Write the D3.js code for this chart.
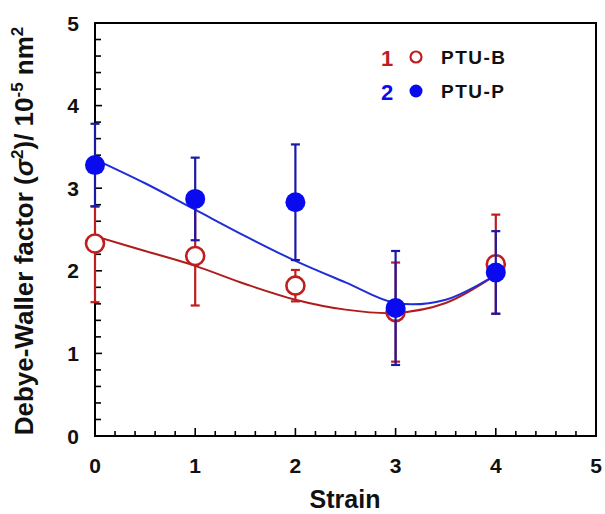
<!DOCTYPE html>
<html>
<head>
<meta charset="utf-8">
<script src="https://cdn.jsdelivr.net/npm/d3@7"></script>
<style>
  html, body { margin: 0; padding: 0; background: #fff; }
  svg { display: block; }
  text { font-family: Arial, "Liberation Sans", sans-serif; font-weight: bold; }
</style>
</head>
<body>
<svg id="chart" width="605" height="514"></svg>
<script>
// Measured points (strain vs Debye-Waller factor, 10^-5 nm^2)
const strain = [0, 1, 2, 3, 4];
const ptuB = [2.33, 2.18, 1.82, 1.50, 2.08];
const ptuBErrUp = [0.45, 0.60, 0.19, 0.60, 0.60];
const ptuBErrDown = [0.71, 0.60, 0.19, 0.60, 0.60];
const ptuP = [3.28, 2.87, 2.83, 1.55, 1.98];
const ptuPErrUp = [0.50, 0.50, 0.70, 0.69, 0.50];
const ptuPErrDown = [0.50, 0.50, 0.70, 0.69, 0.50];

// Trend curves sampled along strain
const fitX = [0, 0.5, 1, 1.5, 2, 2.5, 3, 3.5, 4];
const fitB = [2.42, 2.24, 2.06, 1.84, 1.65, 1.53, 1.49, 1.61, 1.95];
const fitP = [3.35, 3.06, 2.74, 2.42, 2.12, 1.86, 1.61, 1.65, 1.95];

const xTicks = [0, 1, 2, 3, 4, 5];
const yTicks = [0, 1, 2, 3, 4, 5];

const RED = "#bf1e1e";
const RED_LINE = "#b01c1c";
const BLUE = "#0a0af0";
const BLUE_LINE = "#1f2ed6";
const BLUE_BAR = "#1a1aa8";

const svg = d3.select("#chart");
const plotL = 95, plotR = 596, plotT = 23, plotB = 436;

const x = d3.scaleLinear().domain([0, 5]).range([plotL, plotR]);
const y = d3.scaleLinear().domain([0, 5]).range([plotB, plotT]);

// Frame
svg.append("rect")
  .attr("x", plotL).attr("y", plotT)
  .attr("width", plotR - plotL).attr("height", plotB - plotT)
  .attr("fill", "none").attr("stroke", "#000").attr("stroke-width", 2);

// Minor ticks every 0.2
const minor = d3.range(0, 5.001, 0.2).map(v => +v.toFixed(1));

svg.append("g").selectAll("line").data(minor).join("line")
  .attr("x1", d => x(d)).attr("x2", d => x(d))
  .attr("y1", plotB).attr("y2", d => plotB - (Number.isInteger(d) ? 8 : 5))
  .attr("stroke", "#000").attr("stroke-width", 1.6);

svg.append("g").selectAll("line").data(minor).join("line")
  .attr("y1", d => y(d)).attr("y2", d => y(d))
  .attr("x1", plotL).attr("x2", d => plotL + (Number.isInteger(d) ? 7 : 6))
  .attr("stroke", "#000").attr("stroke-width", 1.6);

// Tick labels
svg.append("g").selectAll("text").data(xTicks).join("text")
  .attr("x", d => x(d)).attr("y", 473)
  .attr("text-anchor", "middle").attr("font-size", 21).attr("fill", "#111")
  .text(d => d);

svg.append("g").selectAll("text").data(yTicks).join("text")
  .attr("x", 79).attr("y", d => y(d) + 7.5)
  .attr("text-anchor", "end").attr("font-size", 21).attr("fill", "#111")
  .text(d => d);

// Axis titles
svg.append("text")
  .attr("x", 345).attr("y", 508)
  .attr("text-anchor", "middle").attr("font-size", 25).attr("fill", "#111")
  .text("Strain");

const yt = svg.append("text")
  .attr("transform", "translate(33,231) rotate(-90)")
  .attr("text-anchor", "middle").attr("font-size", 26).attr("fill", "#111");
yt.append("tspan").text("Debye-Waller factor (");
yt.append("tspan").attr("font-style", "italic").text("σ");
yt.append("tspan").attr("font-size", 17).attr("dy", -10).text("2");
yt.append("tspan").attr("dy", 10).text(")/ 10");
yt.append("tspan").attr("font-size", 17).attr("dy", -10).text("-5");
yt.append("tspan").attr("dy", 10).text(" nm");
yt.append("tspan").attr("font-size", 17).attr("dy", -10).text("2");

const line = d3.line().x(d => x(d[0])).y(d => y(d[1])).curve(d3.curveCatmullRom.alpha(0.5));

function drawSeries(vals, up, down, fit, lineColor, barColor, filled, markColor) {
  const g = svg.append("g");
  g.append("path")
    .datum(fitX.map((v, i) => [v, fit[i]]))
    .attr("d", line).attr("fill", "none")
    .attr("stroke", lineColor).attr("stroke-width", 2);
  const pts = strain.map((s, i) => ({ s, v: vals[i], hi: vals[i] + up[i], lo: vals[i] - down[i] }));
  const bars = g.append("g").attr("stroke", barColor).attr("stroke-width", 2.2);
  bars.selectAll("line.v").data(pts).join("line").attr("class", "v")
    .attr("x1", d => x(d.s)).attr("x2", d => x(d.s))
    .attr("y1", d => y(d.lo)).attr("y2", d => y(d.hi));
  bars.selectAll("line.t").data(pts).join("line").attr("class", "t")
    .attr("x1", d => x(d.s) - 4.5).attr("x2", d => x(d.s) + 4.5)
    .attr("y1", d => y(d.hi)).attr("y2", d => y(d.hi));
  bars.selectAll("line.b").data(pts).join("line").attr("class", "b")
    .attr("x1", d => x(d.s) - 4.5).attr("x2", d => x(d.s) + 4.5)
    .attr("y1", d => y(d.lo)).attr("y2", d => y(d.lo));
  g.selectAll("circle").data(pts).join("circle")
    .attr("cx", d => x(d.s)).attr("cy", d => y(d.v))
    .attr("r", filled ? 10 : 9)
    .attr("fill", filled ? markColor : "#fff")
    .attr("stroke", filled ? "none" : markColor)
    .attr("stroke-width", 2.6);
}

drawSeries(ptuB, ptuBErrUp, ptuBErrDown, fitB, RED_LINE, RED, false, RED);
drawSeries(ptuP, ptuPErrUp, ptuPErrDown, fitP, BLUE_LINE, BLUE_BAR, true, BLUE);

// Legend
const legend = [
  { num: "1", name: "PTU-B", color: RED, filled: false, yy: 57 },
  { num: "2", name: "PTU-P", color: BLUE, filled: true, yy: 91 }
];
const lg = svg.append("g");
lg.selectAll("text.n").data(legend).join("text").attr("class", "n")
  .attr("x", 387).attr("y", d => d.yy + 9)
  .attr("text-anchor", "middle").attr("font-size", 22).attr("fill", d => d.color)
  .text(d => d.num);
lg.selectAll("circle").data(legend).join("circle")
  .attr("cx", 416).attr("cy", d => d.yy)
  .attr("r", d => d.filled ? 6.5 : 5.5)
  .attr("fill", d => d.filled ? d.color : "#fff")
  .attr("stroke", d => d.filled ? "none" : d.color)
  .attr("stroke-width", 2.2);
lg.selectAll("text.s").data(legend).join("text").attr("class", "s")
  .attr("x", 441).attr("y", d => d.yy + 7)
  .attr("font-size", 19).attr("fill", "#111").attr("letter-spacing", 1.5)
  .text(d => d.name);
</script>
</body>
</html>
